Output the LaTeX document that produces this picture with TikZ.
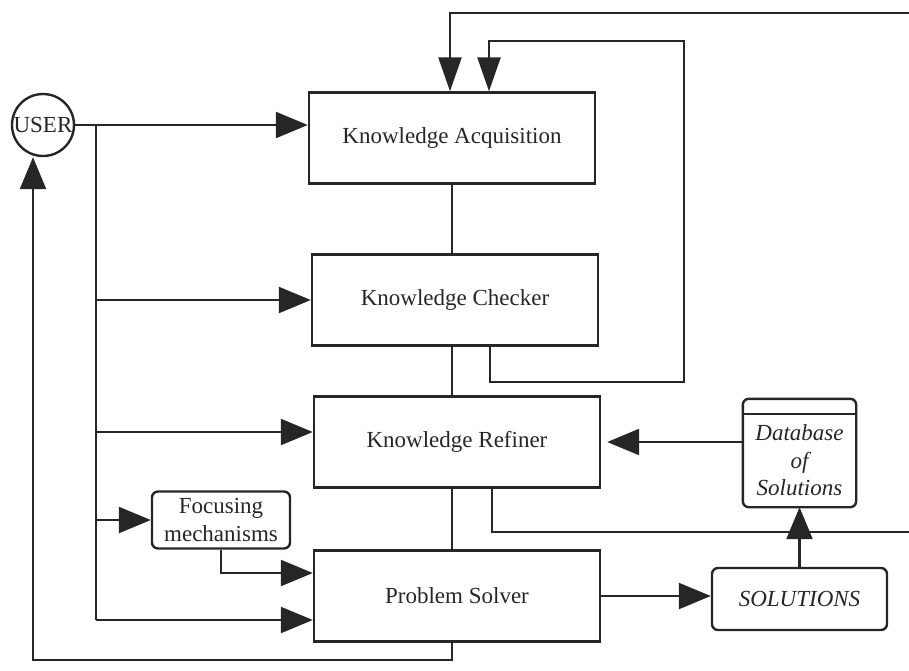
\documentclass[tikz,border=0pt]{standalone}
\usepackage{fontspec}
\setmainfont{Liberation Serif}
\usetikzlibrary{arrows.meta}

\newcommand{\diafont}{\fontsize{11.5}{13.8}\selectfont}

\begin{document}
\begin{tikzpicture}[x=0.5pt, y=-0.5pt, line width=1.2pt, color=black!85,
  every node/.style={font=\diafont},
  block/.style={draw, minimum width=143pt, minimum height=45.5pt, inner sep=0pt},
  roundbox/.style={draw, rounded corners=3pt, inner sep=1pt},
  arr/.style={-{Triangle[length=16pt,width=13pt]}},
  arrdown/.style={-{Triangle[length=17pt,width=11.5pt]}}]

  \useasboundingbox (0,0) rectangle (909,670);

  % The user
  \node[draw, circle, inner sep=0pt, minimum size=31pt] (USER) at (43,125) {USER};

  % Main chain of modules
  \node[block] (KA) at (452,138) {Knowledge Acquisition};
  \node[block] (KC) at (455,300) {Knowledge Checker};
  \node[block] (KR) at (457,442) {Knowledge Refiner};
  \node[block] (PS) at (457,596) {Problem Solver};

  % Side boxes
  \node[roundbox, align=center, minimum width=69pt, minimum height=28.5pt] (FM) at (221,520) {Focusing\\mechanisms};
  \node[roundbox, font=\diafont\itshape, minimum width=87.5pt, minimum height=31pt] (SOL) at (799.5,599) {SOLUTIONS};

  % Database of solutions, with its top band
  \node[align=center, font=\diafont\itshape, minimum width=55.5pt, minimum height=45.5pt, inner sep=0pt] (DB) at (799.5,460.5) {Database\\of\\Solutions};
  \draw[rounded corners=3pt] ([yshift=7.5pt]DB.north west) rectangle (DB.south east);
  \draw (DB.north west) -- (DB.north east);

  % Trunk from the user down the left side
  \coordinate (J) at (96,125);
  \coordinate (Jend) at (96,620);
  \coordinate (KRin) at ([yshift=5pt]KR.west);
  \coordinate (PSin1) at ([yshift=11.5pt]PS.west);
  \coordinate (PSin2) at ([yshift=-12pt]PS.west);
  \draw (J) -- (Jend);
  \draw[arr] (USER.east) -- (USER.east -| KA.west);
  \draw[arr] (J |- KC.west) -- (KC.west);
  \draw[arr] (J |- KRin) -- (KRin);
  \draw[arr] (J |- FM.west) -- (FM.west);
  \draw[arr] (Jend) -- (PSin2);
  \draw[arr] (FM.south) |- (PSin1);

  % Links down the middle
  \draw (KA) -- (KA |- KC.north);
  \draw (KA |- KC.south) -- (KA |- KR.north);
  \draw (KA |- KR.south) -- (KA |- PS.north);

  % Feedback into Knowledge Acquisition
  \coordinate (TopR) at (909,13);
  \coordinate (LoopA) at (684,382);
  \coordinate (LoopB) at (684,41);
  \draw[arrdown] (TopR) -| ([xshift=-1pt]KA.north);
  \draw[arrdown] ([xshift=17.5pt]KC.south) |- (LoopA) -- (LoopB) -| ([xshift=18.5pt]KA.north);

  % Refiner out to the right edge
  \coordinate (MidR) at (909,532);
  \draw ([xshift=17.5pt]KR.south) |- (MidR);

  % Solutions and the database
  \draw[arr] (PS.east) -- (PS.east -| SOL.west);
  \draw[arr] (SOL) -- (DB);
  \draw[arr] (DB.west |- KR.east) -- ([xshift=3pt]KR.east);

  % Back to the user
  \coordinate (Back) at (33,660);
  \draw[arr] (KA |- PS.south) |- (Back) -- (Back |- USER.south);

\end{tikzpicture}
\end{document}
